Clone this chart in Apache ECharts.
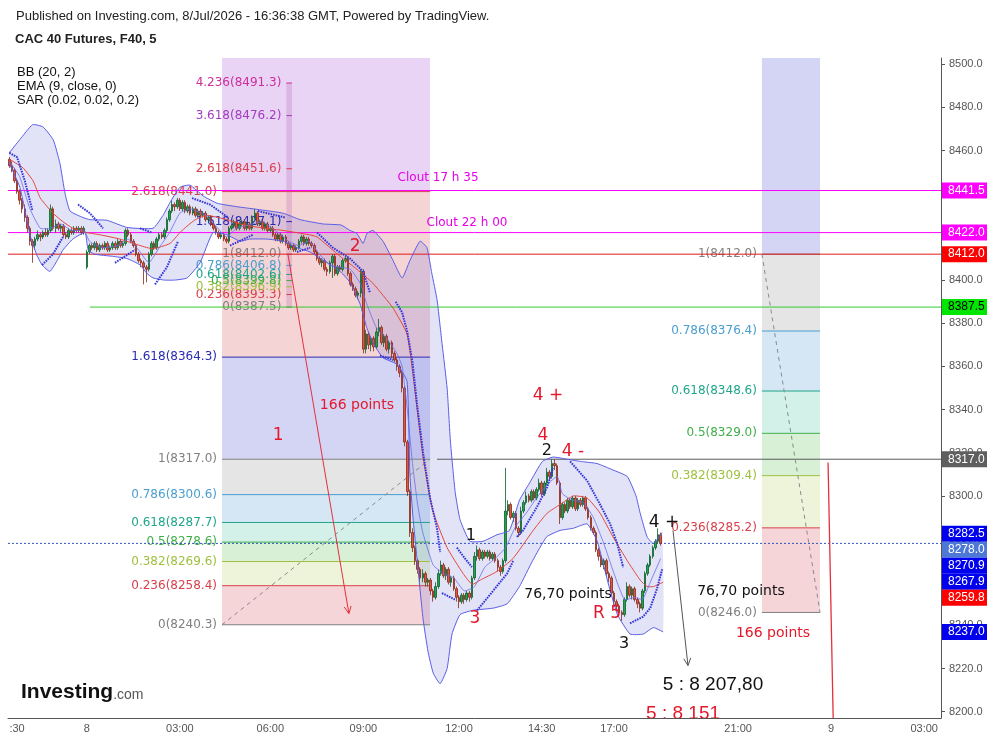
<!DOCTYPE html>
<html><head><meta charset="utf-8">
<script src="https://cdn.jsdelivr.net/npm/echarts@6/dist/echarts.min.js"></script>
<style>html,body{margin:0;padding:0;background:#fff;}#c{width:993px;height:741px;}</style>
</head><body><div id="c"></div>
<script>
// ================= DATA =================
const barCount = 361; // 5-minute bars from 21:30
const categories = Array.from({length: barCount}, (_, i) => {
  const m = (21 * 60 + 30 + 5 * i) % 1440;
  return String(Math.floor(m / 60)).padStart(2, '0') + ':' + String(m % 60).padStart(2, '0');
});
const xTicks = [[3, ':30'], [30, '8'], [66, '03:00'], [101, '06:00'], [137, '09:00'], [174, '12:00'], [206, '14:30'], [234, '17:00'], [282, '21:00'], [318, '9'], [354, '03:00']];
const yTicks = [8200, 8220, 8240, 8260, 8280, 8300, 8320, 8340, 8360, 8380, 8400, 8420, 8440, 8460, 8480, 8500];
const yMin = 8197.1, yMax = 8502.9;

// candles: [open, close, low, high]
const ohlc = [
[8456,8453,8452,8457],[8453,8451,8450,8455],[8451,8446,8445,8452],[8446,8441,8440,8447],[8441,8437,8435,8442],
[8437,8433,8431,8438],[8433,8429,8427,8435],[8429,8424,8422,8430],[8424,8418,8416,8425],[8418,8416,8408,8419],
[8416,8419,8414,8420],[8419,8421,8418,8423],[8421,8420,8418,8422],[8420,8422,8419,8423],[8422,8421,8420,8424],
[8421,8423,8420,8424],[8423,8433,8422,8435],[8433,8424,8423,8434],[8424,8426,8422,8428],[8426,8424,8423,8427],
[8424,8425,8422,8426],[8425,8421,8420,8426],[8421,8420,8419,8422],[8420,8423,8419,8424],[8423,8422,8421,8424],
[8422,8424,8421,8425],[8424,8423,8422,8425],[8423,8424,8422,8425],[8424,8422,8421,8425],[8422,8424,8421,8425],
[8406,8413,8405,8414],[8413,8416,8412,8417],[8416,8415,8414,8417],[8415,8417,8414,8418],[8417,8414,8413,8418],
[8414,8416,8413,8417],[8416,8415,8414,8417],[8415,8417,8414,8418],[8417,8414,8413,8418],[8414,8415,8413,8416],
[8415,8417,8414,8418],[8417,8415,8414,8418],[8415,8418,8414,8419],[8418,8416,8415,8419],[8416,8417,8415,8418],
[8417,8423,8416,8424],[8423,8421,8420,8424],[8421,8418,8417,8422],[8418,8416,8415,8419],[8416,8412,8411,8417],
[8412,8409,8408,8413],[8409,8408,8406,8410],[8408,8406,8398,8409],[8406,8405,8399,8407],[8405,8412,8404,8413],
[8412,8417,8411,8418],[8417,8415,8414,8418],[8415,8419,8414,8420],[8419,8421,8418,8422],[8421,8420,8419,8422],
[8420,8423,8419,8424],[8423,8428,8422,8429],[8428,8432,8427,8433],[8432,8435,8431,8437],[8435,8434,8432,8436],
[8434,8437,8433,8438],[8437,8433,8432,8438],[8433,8436,8432,8437],[8436,8432,8431,8437],[8432,8434,8431,8435],
[8434,8431,8430,8435],[8431,8433,8430,8434],[8433,8430,8429,8434],[8430,8432,8429,8433],[8432,8430,8429,8433],
[8430,8431,8429,8432],[8431,8428,8427,8432],[8428,8429,8427,8430],[8429,8426,8425,8430],[8426,8424,8423,8427],
[8424,8422,8421,8425],[8422,8420,8419,8423],[8420,8421,8419,8422],[8421,8419,8418,8422],[8419,8418,8417,8420],
[8418,8424,8417,8425],[8424,8425,8423,8426],[8425,8427,8424,8428],[8427,8424,8423,8428],[8424,8426,8423,8427],
[8426,8427,8425,8428],[8427,8424,8423,8428],[8424,8426,8423,8427],[8426,8424,8423,8427],[8424,8429,8423,8430],
[8429,8431,8428,8433],[8431,8426,8425,8432],[8426,8427,8425,8428],[8427,8424,8423,8428],[8424,8426,8423,8427],
[8426,8423,8422,8427],[8423,8424,8422,8425],[8424,8421,8420,8425],[8421,8419,8418,8422],[8419,8421,8418,8422],
[8421,8418,8417,8422],[8418,8420,8417,8421],[8420,8417,8416,8421],[8417,8415,8414,8418],[8415,8416,8414,8417],
[8416,8414,8413,8417],[8414,8415,8413,8416],[8415,8418,8414,8419],[8418,8420,8417,8421],[8420,8417,8416,8421],
[8417,8419,8416,8420],[8419,8417,8416,8420],[8417,8416,8415,8418],[8416,8413,8412,8417],[8413,8410,8409,8414],
[8410,8408,8407,8411],[8408,8409,8406,8410],[8409,8405,8404,8410],[8405,8404,8402,8406],[8404,8408,8403,8409],
[8408,8411,8401,8412],[8411,8403,8402,8412],[8403,8406,8402,8407],[8406,8405,8404,8407],[8405,8409,8404,8410],
[8409,8410,8408,8411],[8410,8403,8402,8411],[8403,8398,8397,8404],[8398,8396,8395,8399],[8396,8393,8392,8397],
[8393,8394,8391,8395],[8394,8404,8392,8405],[8404,8368,8366,8405],[8368,8375,8366,8377],[8375,8370,8368,8376],
[8370,8373,8367,8374],[8373,8369,8367,8374],[8369,8376,8368,8378],[8376,8378,8374,8382],[8378,8371,8370,8379],
[8371,8374,8369,8375],[8374,8368,8367,8375],[8368,8371,8366,8372],[8371,8366,8364,8372],[8366,8363,8362,8367],
[8363,8360,8358,8364],[8360,8357,8355,8361],[8357,8350,8348,8358],[8350,8325,8323,8351],[8325,8302,8300,8326],
[8302,8283,8281,8303],[8283,8276,8274,8285],[8276,8270,8268,8277],[8270,8266,8264,8271],[8266,8262,8260,8267],
[8262,8264,8260,8266],[8264,8260,8258,8265],[8260,8261,8258,8262],[8261,8256,8254,8262],[8256,8253,8251,8257],
[8253,8258,8252,8260],[8258,8264,8257,8266],[8264,8268,8263,8270],[8268,8263,8262,8269],[8263,8266,8261,8267],
[8266,8260,8259,8267],[8260,8262,8258,8263],[8262,8257,8256,8263],[8257,8253,8251,8258],[8253,8251,8248,8254],
[8251,8254,8250,8255],[8254,8252,8250,8255],[8252,8255,8251,8256],[8255,8253,8251,8256],[8253,8262,8252,8263],
[8262,8272,8261,8274],[8272,8275,8270,8277],[8275,8271,8270,8276],[8271,8274,8270,8275],[8274,8272,8271,8275],
[8272,8274,8271,8275],[8274,8271,8270,8275],[8271,8273,8270,8274],[8273,8270,8269,8274],[8270,8267,8265,8271],
[8267,8265,8263,8268],[8265,8270,8264,8271],[8270,8293,8269,8313],[8293,8296,8291,8298],[8296,8290,8289,8297],
[8290,8292,8288,8293],[8292,8285,8284,8293],[8285,8283,8281,8286],[8283,8293,8282,8295],[8293,8297,8292,8298],
[8297,8300,8296,8302],[8300,8298,8297,8301],[8298,8302,8297,8303],[8302,8299,8298,8303],[8299,8303,8298,8304],
[8303,8306,8302,8308],[8306,8301,8300,8307],[8301,8306,8300,8307],[8306,8311,8305,8313],[8311,8309,8307,8312],
[8309,8315,8308,8317],[8315,8314,8312,8317],[8314,8306,8305,8315],[8306,8290,8287,8307],[8290,8296,8289,8297],
[8296,8293,8292,8297],[8293,8298,8292,8299],[8298,8295,8294,8299],[8295,8299,8294,8300],[8299,8294,8293,8300],
[8294,8298,8293,8299],[8298,8296,8295,8299],[8296,8299,8295,8300],[8299,8294,8293,8300],[8294,8290,8289,8295],
[8290,8285,8284,8291],[8285,8283,8282,8286],[8283,8275,8274,8284],[8275,8272,8270,8276],[8272,8268,8267,8273],
[8268,8270,8266,8271],[8270,8264,8263,8271],[8264,8262,8260,8265],[8262,8255,8254,8263],[8255,8251,8249,8256],
[8251,8249,8247,8252],[8249,8246,8244,8250],[8246,8245,8242,8247],[8245,8252,8244,8253],[8252,8258,8251,8260],
[8258,8254,8253,8259],[8254,8257,8252,8258],[8257,8252,8251,8258],[8252,8250,8248,8253],[8250,8248,8246,8251],
[8248,8256,8247,8257],[8256,8264,8255,8265],[8264,8268,8263,8269],[8268,8272,8267,8273],[8272,8276,8271,8277],
[8276,8279,8275,8280],[8279,8282,8278,8285],[8282,8278,8277,8283]
];

// Bollinger bands / EMA as [bar, price]
const bbUpper = [[0,8459],[4,8465],[9,8472],[13,8471],[17,8465],[19.6,8454],[21.6,8440],[23.5,8432],[28.5,8429],[31.2,8428],[37.8,8427.7],[45.5,8424.4],[55.6,8424],[59.5,8430],[62.2,8436],[66,8443],[69.9,8444],[75,8439],[80.4,8435.6],[88.1,8434],[97.6,8432.5],[105.9,8431],[112.5,8428],[121.4,8426],[128.4,8425.5],[131.8,8423],[134.5,8421.6],[136.9,8417],[138.4,8421.6],[140.7,8423],[144.6,8418],[148.5,8409],[152,8401],[155,8409],[158.9,8418],[161.6,8415],[163.5,8403],[165.5,8391],[167.5,8370],[169.4,8350],[170.7,8325],[172.5,8302],[174.4,8289],[178.2,8279],[183.3,8279],[188.7,8282],[193.5,8284],[197.4,8298],[201.3,8306],[206.3,8316],[210.4,8318],[215.9,8317],[220.9,8316],[227.4,8315],[233.6,8312],[239.1,8309],[242.5,8300],[244.1,8292],[246.8,8281],[249.2,8278],[252.6,8283]];
const bbLower = [[0,8454],[4.1,8443],[8,8421],[10.5,8412],[12.7,8407],[15.7,8404],[18.5,8409],[20.8,8414],[24.6,8419],[29.3,8422],[30.5,8414],[33,8412],[40,8411],[45.5,8410],[50.6,8407],[53.3,8403],[55.6,8401],[60,8400],[64,8400],[68.8,8401],[73.8,8408],[78.8,8422],[84.2,8421],[89.3,8418],[93,8419],[99.7,8419],[106,8418],[111.3,8415],[116.4,8413],[123,8408],[128,8404],[131.8,8399],[135.7,8389],[138.3,8378],[140.7,8371],[144.6,8364],[150,8361],[153.9,8353],[155,8310],[156.2,8290],[157.5,8274],[160.1,8243],[162,8228],[164,8218],[166.7,8213],[169.4,8220],[171.3,8236],[174.4,8245],[179.4,8247],[187.2,8248],[192.6,8250],[197.4,8258],[202.5,8270],[207.9,8281],[213.1,8284],[218.2,8285],[223.6,8287],[227.5,8279],[231.4,8261],[235.3,8245],[240.2,8236],[245.3,8236],[249.2,8239],[253,8237]];
const bbBasis = [[0,8456],[5.3,8452],[9.2,8446],[12,8438],[16.9,8431],[20.8,8427],[24.6,8424],[30,8422],[35.1,8421],[42.8,8419],[50.6,8416],[55.6,8414.5],[62.2,8417],[66,8422],[68.8,8425],[72,8428],[76.5,8430],[84.2,8428],[89.3,8426],[93.1,8425],[105.9,8423],[116,8421],[119.1,8420],[128,8411],[134.5,8405],[140.7,8398.5],[148.5,8387],[153.9,8375],[156.2,8356],[160.1,8318],[163.9,8293],[169.4,8276],[175.6,8264],[179.1,8259],[182.2,8261],[188.7,8265],[194.9,8271],[202.7,8284],[208.1,8292],[213.1,8296],[218.2,8300],[223.6,8299],[228.6,8292],[233.6,8281],[239.1,8270],[244.1,8261],[246.8,8258],[249.2,8258],[253,8260]];
const ema9 = [[0,8455],[4,8448],[8,8433],[12,8424],[16,8424],[20,8426],[24,8423],[29,8423],[31,8418],[36,8415],[42,8416],[46,8419],[50,8414],[54,8408],[58,8415],[62,8422],[66,8431],[70,8433],[76,8430],[80,8425],[84,8420],[88,8424],[94,8426],[98,8427],[104,8422],[108,8418],[112,8416],[116,8418],[120,8412],[124,8407],[128,8406],[132,8405],[136,8398],[138,8390],[142,8378],[146,8373],[150,8366],[152,8360],[154,8340],[156,8315],[158,8296],[160,8283],[164,8268],[168,8264],[172,8262],[176,8256],[180,8258],[184,8267],[188,8271],[192,8276],[196,8286],[200,8292],[204,8299],[208,8305],[212,8309],[214,8301],[218,8298],[222,8297],[226,8290],[230,8278],[234,8264],[238,8252],[242,8253],[245,8252],[248,8260],[252,8271]];

// Parabolic SAR segments [bar, price]
const sarSegments = [
  [[0,8459],[3,8457],[6,8446],[9,8432]],
  [[12.7,8407],[16.9,8412],[20.8,8420]],
  [[26.6,8435],[31.2,8431],[36.3,8424]],
  [[40.9,8408],[48.6,8414]],
  [[50.6,8424],[55.2,8422]],
  [[56.4,8398],[61,8406],[65.3,8418]],
  [[70.7,8438],[77.7,8435],[84.6,8429]],
  [[85.4,8416],[94.3,8421]],
  [[96.2,8432],[106.7,8429]],
  [[111.3,8413],[116.4,8415]],
  [[119.1,8422],[125.2,8415],[131.8,8410],[136.9,8404],[139.6,8394]],
  [[143.4,8365],[148.5,8363]],
  [[149.5,8390],[152,8385],[154,8376],[156,8362],[157.8,8342],[160.1,8320],[162.8,8299],[165.5,8285],[166.7,8274]],
  [[167.4,8255],[172.4,8252]],
  [[173.2,8276],[176.3,8271],[179,8267]],
  [[181,8247],[187.2,8256],[192.6,8264],[195,8270]],
  [[196.4,8281],[198.8,8284],[204.2,8295],[208.1,8304],[210.4,8313]],
  [[217,8316],[223.6,8307],[228.6,8296],[232.5,8287],[235.2,8278],[237.5,8267]],
  [[240.2,8241],[245.2,8244],[248,8248],[250.6,8257],[252.6,8266]]
];

// Fibonacci tools
const fibLevelNames = ['0', '0.236', '0.382', '0.5', '0.618', '0.786', '1', '1.618', '2.618', '3.618', '4.236'];
const fibLowerPrices = [8240.3, 8258.4, 8269.6, 8278.6, 8287.7, 8300.6, 8317.0, 8364.3, 8441.0, 8517.8];
const fibLowerSpan = [82.3, 162.8];
const fibUpperPrices = [8387.5, 8393.3, 8396.9, 8399.8, 8402.6, 8406.8, 8412.0, 8427.1, 8451.6, 8476.2, 8491.3];
const fibUpperSpan = [107.2, 109.4];
const fibRightPrices = [8246.0, 8285.2, 8309.4, 8329.0, 8348.6, 8376.4, 8412.0, 8514.6];
const fibRightSpan = [291.2, 313.7];

// horizontal lines [price, fromBar, toBar]
const hLines = [[8441.5, -0.5, 360.5], [8422.0, -0.5, 360.5], [8412.0, -0.5, 360.5], [8387.5, 31.2, 360.5], [8317.0, 165.5, 360.5], [8278.0, -0.5, 360.5]];
// trend lines [bar0, price0, bar1, price1]
const trendLines = [[107.8, 8412, 131.4, 8245.5], [256.8, 8284, 262.6, 8221.4], [316.8, 8315.5, 318.9, 8190], [82.3, 8240.3, 162.8, 8317.0], [291.2, 8412.0, 313.7, 8246.0]];

// text notes [bar, price, text]
const notes = [
  [165.9, 8447.2, 'Clout 17 h 35'], [177.1, 8426.3, 'Clout 22 h 00'], [133.8, 8415.6, '2'], [134.5, 8341.9, '166 points'],
  [104.0, 8328.0, '1'], [208.4, 8346.5, '4 +'], [206.5, 8328.0, '4'], [208.0, 8321.0, '2'], [218.1, 8320.6, '4 -'],
  [178.6, 8281.6, '1'], [180.2, 8243.2, '3'], [216.2, 8254.3, '76,70 points'], [231.3, 8245.5, 'R 5'],
  [237.9, 8231.6, '3'], [253.3, 8287.7, '4 +'], [283.1, 8255.7, '76,70 points'], [295.5, 8236.2, '166 points'],
  [272.3, 8212.6, '5 : 8 207,80'], [260.7, 8199.0, '5 : 8 151']
];
const priceTags = [8441.5, 8422.0, 8412.0, 8387.5, 8317.0, 8282.5, 8278.0, 8270.9, 8267.9, 8259.8, 8237.0];

// ================= STYLES =================
const zoneFill = ['#f5d5d7', '#edf4da', '#d7f0d6', '#d3f1e8', '#d5e7f4', '#e5e5e5', '#d4d5f4', '#f5d4d6', '#e9d4f5', '#f4d2e9'];
const levelColor = ['#808080', '#d8404c', '#a0c040', '#3fae49', '#20a58a', '#4a9ed0', '#808080', '#2a2ab0', '#d8404c', '#a03cc0', '#cc2f9a'];
const hLineStyle = [
  {stroke: '#ff00ff', lineWidth: 1}, {stroke: '#ff00ff', lineWidth: 1}, {stroke: '#e01a1a', lineWidth: 1},
  {stroke: '#2ecc2e', lineWidth: 1}, {stroke: '#5a5a5a', lineWidth: 1}, {stroke: '#3355bb', lineWidth: 1, lineDash: [2, 2]}
];
const trendStyle = [
  {stroke: '#e5303c', lineWidth: 1, arrow: true}, {stroke: '#555555', lineWidth: 1, arrow: true},
  {stroke: '#e5303c', lineWidth: 1.3}, {stroke: '#8a8a8a', lineWidth: 1, lineDash: [4, 4]}, {stroke: '#8a8a8a', lineWidth: 1, lineDash: [4, 4]}
];
const RED = '#e3192b';
const noteStyle = [
  ['#e600e6', 12], ['#e600e6', 12], [RED, 17], [RED, 14], [RED, 17], [RED, 17], [RED, 17], ['#111', 16], [RED, 17],
  ['#111', 16], [RED, 17], ['#111', 14], [RED, 17], ['#111', 16], ['#111', 17], ['#111', 14], [RED, 14],
  ['#111', 19], [RED, 19]
];
const tagStyle = [
  ['#ff00ff', '#fff'], ['#ff00ff', '#fff'], ['#ff0000', '#fff'], ['#00e600', '#000'], ['#5f5f5f', '#fff'],
  ['#0000ee', '#fff'], ['#4d78d6', '#fff'], ['#0000ee', '#fff'], ['#0000ee', '#fff'], ['#ff0000', '#fff'], ['#0000ee', '#fff']
];

// ================= BUILD =================
const tickMap = new Map(xTicks);
function buildZones(prices, span, tool, out) {
  for (let k = 0; k < prices.length - 1; k++) out.push([span[0], span[1], prices[k], prices[k + 1], k, tool]);
}
const zoneData = [];
buildZones(fibLowerPrices, fibLowerSpan, 0, zoneData);
buildZones(fibRightPrices, fibRightSpan, 1, zoneData);
buildZones(fibUpperPrices, fibUpperSpan, 2, zoneData);
const levelData = [];
function buildLevels(prices, span, out) {
  prices.forEach((p, k) => out.push([span[0], span[1], p, k]));
}
buildLevels(fibLowerPrices, fibLowerSpan, levelData);
buildLevels(fibRightPrices, fibRightSpan, levelData);
buildLevels(fibUpperPrices, fibUpperSpan, levelData);

const polySets = [bbUpper, bbLower, bbBasis, ema9].concat(sarSegments);
const polyStyle = i => {
  if (i === 0 || i === 1) return {stroke: '#5a5ee6', lineWidth: 1, fill: null};
  if (i === 2) return {stroke: '#e2483c', lineWidth: 1, fill: null};
  if (i === 3) return {stroke: '#6b6de8', lineWidth: 1, fill: null, opacity: 0.8};
  return {stroke: '#3434d8', lineWidth: 2, lineDash: [1.6, 1.0], fill: null};
};

const FIBFONT = '12px "DejaVu Sans", Verdana, sans-serif';
const chart = echarts.init(document.getElementById('c'), null, {renderer: 'canvas'});
let tagY = null;

const option = {
  animation: false,
  backgroundColor: '#ffffff',
  grid: {left: 8, right: 52, top: 58, bottom: 23, containLabel: false},
  xAxis: [
    {
      type: 'category', data: categories, boundaryGap: true,
      axisLine: {onZero: false, lineStyle: {color: '#555'}},
      axisTick: {alignWithLabel: true, length: 4, interval: i => tickMap.has(i), lineStyle: {color: '#555'}},
      axisLabel: {interval: i => tickMap.has(i), formatter: (v, i) => tickMap.get(i) || '', color: '#555', fontSize: 11, margin: 5, fontFamily: 'Liberation Sans, Arial'},
      splitLine: {show: false}
    },
    {type: 'value', min: -0.5, max: barCount - 0.5, show: false, axisLine: {onZero: false}}
  ],
  yAxis: [{
    type: 'value', position: 'right', min: yMin, max: yMax, scale: true,
    axisLine: {show: true, onZero: false, lineStyle: {color: '#555'}},
    axisTick: {show: true, length: 4, customValues: yTicks, lineStyle: {color: '#555'}},
    axisLabel: {customValues: yTicks, formatter: v => v.toFixed(1), color: '#555', fontSize: 11, margin: 8, fontFamily: 'Liberation Sans, Arial'},
    splitLine: {show: false}
  }],
  graphic: [
    {type: 'text', left: 16, top: 10, style: {text: 'Published on Investing.com, 8/Jul/2026 - 16:36:38 GMT, Powered by TradingView.', font: '13px "Liberation Sans", Arial', fill: '#222'}},
    {type: 'text', left: 15, top: 33, style: {text: 'CAC 40 Futures, F40, 5', font: 'bold 13px "Liberation Sans", Arial', fill: '#222'}},
    {type: 'text', left: 17, top: 65, style: {text: 'BB (20, 2)\nEMA (9, close, 0)\nSAR (0.02, 0.02, 0.2)', font: '13px "Liberation Sans", Arial', fill: '#111', lineHeight: 14}},
    {type: 'text', left: 21, top: 682, z: 100, style: {text: '{a|Investing}{b|.com}', rich: {a: {font: 'bold 21px "Liberation Sans", Arial', fill: '#111', letterSpacing: -0.5}, b: {font: '14px "Liberation Sans", Arial', fill: '#555', padding: [5, 0, 0, 0]}}}}
  ],
  series: [
    { // fib zones
      type: 'custom', xAxisIndex: 1, yAxisIndex: 0, clip: true, z: 1, silent: true,
      data: zoneData,
      renderItem: (params, api) => {
        const a = api.coord([api.value(0), api.value(3)]);
        const b = api.coord([api.value(1), api.value(2)]);
        const tool = api.value(5);
        const fill = tool === 2 ? 'rgba(170,80,170,0.22)' : zoneFill[api.value(4)];
        return {type: 'rect', shape: {x: a[0], y: a[1], width: b[0] - a[0], height: b[1] - a[1]}, style: {fill: fill}};
      }
    },
    { // BB fill
      type: 'custom', xAxisIndex: 1, yAxisIndex: 0, clip: true, z: 2, silent: true,
      data: [[0]],
      renderItem: (params, api) => {
        const pts = bbUpper.map(p => api.coord(p)).concat(bbLower.slice().reverse().map(p => api.coord(p)));
        return {type: 'polygon', shape: {points: pts, smooth: 0.15}, style: {fill: 'rgba(110,115,215,0.2)'}};
      }
    },
    { // fib level lines & labels
      type: 'custom', xAxisIndex: 1, yAxisIndex: 0, clip: true, z: 3, silent: true,
      data: levelData,
      renderItem: (params, api) => {
        const a = api.coord([api.value(0), api.value(2)]);
        const b = api.coord([api.value(1), api.value(2)]);
        const k = api.value(3);
        const col = levelColor[k];
        return {type: 'group', children: [
          {type: 'line', shape: {x1: a[0], y1: a[1], x2: b[0], y2: b[1]}, style: {stroke: col, lineWidth: 1}},
          {type: 'text', x: a[0] - 5, y: a[1], style: {text: fibLevelNames[k] + '(' + api.value(2).toFixed(1) + ')', font: FIBFONT, fill: col, align: 'right', verticalAlign: 'middle'}}
        ]};
      }
    },
    { // horizontal lines
      type: 'custom', xAxisIndex: 1, yAxisIndex: 0, clip: true, z: 4, silent: true,
      data: hLines,
      renderItem: (params, api) => {
        const a = api.coord([api.value(1), api.value(0)]);
        const b = api.coord([api.value(2), api.value(0)]);
        return {type: 'line', shape: {x1: a[0], y1: a[1], x2: b[0], y2: b[1]}, style: hLineStyle[params.dataIndex]};
      }
    },
    { // trend lines
      type: 'custom', xAxisIndex: 1, yAxisIndex: 0, clip: true, z: 4, silent: true,
      data: trendLines,
      renderItem: (params, api) => {
        const a = api.coord([api.value(0), api.value(1)]);
        const b = api.coord([api.value(2), api.value(3)]);
        const st = trendStyle[params.dataIndex];
        const ch = [{type: 'line', shape: {x1: a[0], y1: a[1], x2: b[0], y2: b[1]}, style: {stroke: st.stroke, lineWidth: st.lineWidth, lineDash: st.lineDash || null}}];
        if (st.arrow) {
          const ang = Math.atan2(b[1] - a[1], b[0] - a[0]);
          [0.45, -0.45].forEach(d => {
            ch.push({type: 'line', shape: {x1: b[0], y1: b[1], x2: b[0] - 8 * Math.cos(ang + d), y2: b[1] - 8 * Math.sin(ang + d)}, style: {stroke: st.stroke, lineWidth: 1}});
          });
        }
        return {type: 'group', children: ch};
      }
    },
    { // candles
      type: 'candlestick', xAxisIndex: 0, yAxisIndex: 0, z: 5, barWidth: 2,
      data: ohlc,
      itemStyle: {color: '#23a24d', color0: '#e3553f', borderColor: '#0d5f2a', borderColor0: '#86281b', borderWidth: 0.8}
    },
    { // indicator polylines
      type: 'custom', xAxisIndex: 1, yAxisIndex: 0, clip: true, z: 6, silent: true,
      data: polySets.map((_, i) => [i]),
      renderItem: (params, api) => {
        const i = params.dataIndex;
        const pts = polySets[i].map(p => api.coord(p));
        return {type: 'polyline', shape: {points: pts, smooth: i < 4 ? 0.15 : 0}, style: polyStyle(i)};
      }
    },
    { // notes
      type: 'custom', xAxisIndex: 1, yAxisIndex: 0, clip: true, z: 8, silent: true,
      data: notes.map(n => [n[0], n[1]]),
      renderItem: (params, api) => {
        const i = params.dataIndex;
        const p = api.coord([api.value(0), api.value(1)]);
        const st = noteStyle[i];
        const fam = st[1] >= 19 ? '"Liberation Sans", Arial' : '"DejaVu Sans", Verdana, sans-serif';
        return {type: 'text', x: p[0], y: p[1], style: {text: notes[i][2], font: st[1] + 'px ' + fam, fill: st[0], align: 'center', verticalAlign: 'middle'}};
      }
    },
    { // price tags on the axis
      type: 'custom', xAxisIndex: 1, yAxisIndex: 0, clip: false, z: 10, silent: true,
      data: priceTags.map(p => [barCount - 0.5, p]),
      renderItem: (params, api) => {
        const i = params.dataIndex;
        if (i === 0 || !tagY) {
          tagY = priceTags.map(p => api.coord([barCount - 0.5, p])[1]);
          for (let k = 1; k < tagY.length; k++) if (tagY[k] < tagY[k - 1] + 16) tagY[k] = tagY[k - 1] + 16;
        }
        const x = api.coord([barCount - 0.5, priceTags[i]])[0] + 1;
        const y = tagY[i];
        const st = tagStyle[i];
        return {type: 'group', children: [
          {type: 'rect', shape: {x: x, y: y - 8, width: 45, height: 16}, style: {fill: st[0]}},
          {type: 'text', x: x + 6, y: y, style: {text: priceTags[i].toFixed(1), font: '12px "Liberation Sans", Arial', fill: st[1], align: 'left', verticalAlign: 'middle'}}
        ]};
      }
    }
  ]
};
chart.setOption(option);
</script>
</body></html>
